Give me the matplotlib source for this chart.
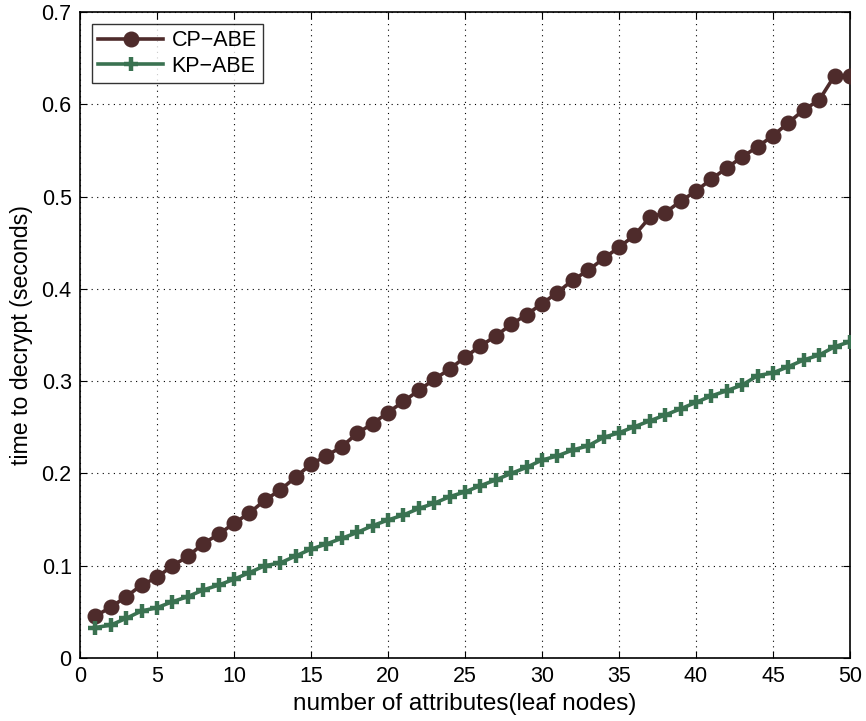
import matplotlib
matplotlib.use("Agg")
import matplotlib.pyplot as plt

plt.rcParams['font.family'] = ['Liberation Sans', 'DejaVu Sans']

attributes = list(range(1, 51))
cp_abe = [0.0455, 0.055, 0.0665, 0.079, 0.0874, 0.100, 0.110, 0.124, 0.134, 0.146,
          0.157, 0.171, 0.182, 0.196, 0.210, 0.219, 0.229, 0.2435, 0.254, 0.266,
          0.278, 0.290, 0.302, 0.313, 0.326, 0.338, 0.349, 0.3615, 0.372, 0.384,
          0.396, 0.4096, 0.420, 0.433, 0.445, 0.458, 0.4775, 0.4825, 0.495, 0.506,
          0.519, 0.531, 0.543, 0.554, 0.566, 0.580, 0.594, 0.6046, 0.631, 0.631]
kp_abe = [0.033, 0.0357, 0.043, 0.051, 0.0545, 0.061, 0.0665, 0.0737, 0.079, 0.0853,
          0.0925, 0.100, 0.103, 0.1105, 0.118, 0.1235, 0.1297, 0.136, 0.1434, 0.1495,
          0.155, 0.162, 0.1676, 0.1748, 0.180, 0.1867, 0.193, 0.200, 0.2066, 0.2145,
          0.219, 0.2254, 0.230, 0.239, 0.2441, 0.2506, 0.257, 0.2633, 0.270, 0.277,
          0.284, 0.2897, 0.2958, 0.306, 0.309, 0.3157, 0.323, 0.3283, 0.3373, 0.3427]
series_names = ["CP\u2212ABE", "KP\u2212ABE"]
x_ticks = list(range(0, 51, 5))
y_ticks = [0, 0.1, 0.2, 0.3, 0.4, 0.5, 0.6, 0.7]
y_tick_labels = ["0", "0.1", "0.2", "0.3", "0.4", "0.5", "0.6", "0.7"]

fig = plt.figure(figsize=(8.66, 7.21), dpi=100)
ax = fig.add_axes([80 / 866, 1 - 658 / 721, 770 / 866, 646 / 721])

ax.plot(attributes, cp_abe, color="#4e2b2b", linewidth=2.6, marker="o",
        markersize=10.5, label=series_names[0], zorder=3)
ax.plot(attributes, kp_abe, color="#3a7251", linewidth=2.6, marker="+",
        markersize=9.5, markeredgewidth=3.2, label=series_names[1], zorder=3)

ax.set_xlim(0, 50)
ax.set_ylim(0, 0.7)
ax.set_xticks(x_ticks)
ax.set_yticks(y_ticks)
ax.set_yticklabels(y_tick_labels)
ax.tick_params(direction="in", length=5, width=0.8, labelsize=15.5,
               top=True, right=True, pad=6)
ax.grid(True, linestyle=(0, (1, 4)), color="black", linewidth=0.8)
for s in ax.spines.values():
    s.set_linewidth(1.2)

ax.set_xlabel("number of attributes(leaf nodes)", fontsize=17.5, labelpad=4)
ax.set_ylabel("time to decrypt (seconds)", fontsize=16.7, labelpad=6)

leg = ax.legend(loc="upper left", fontsize=15.5, frameon=True, fancybox=False,
                edgecolor="black", borderaxespad=0.55, handlelength=3.0,
                borderpad=0.3, labelspacing=0.2, handletextpad=0.4)
leg.get_frame().set_linewidth(1.0)

fig.savefig("out.png", dpi=100)
